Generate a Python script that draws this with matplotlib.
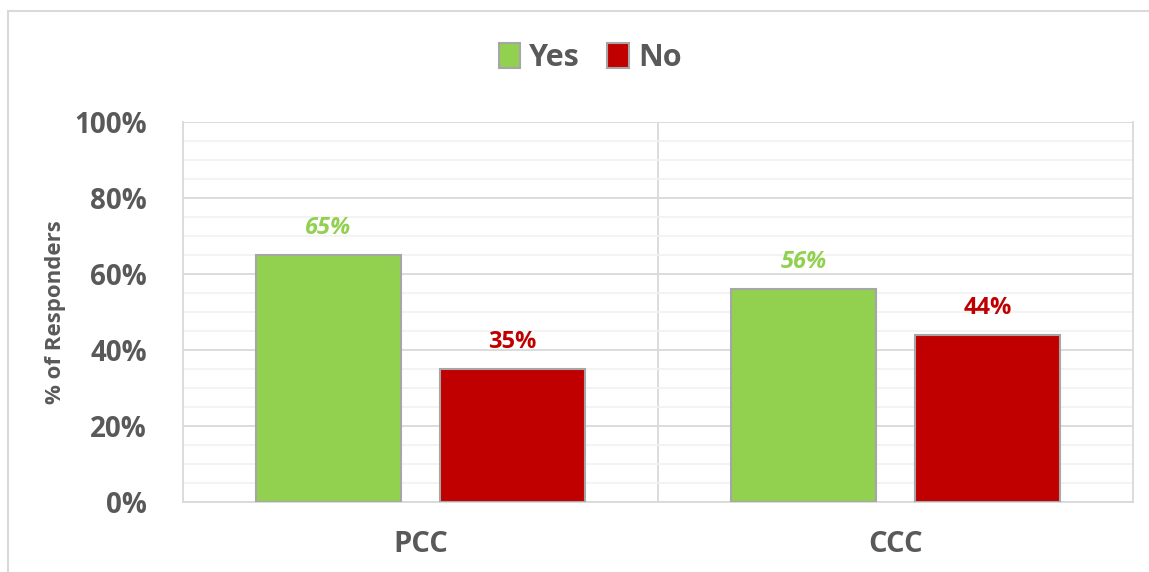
import matplotlib.pyplot as plt
from matplotlib.patches import Rectangle
from matplotlib.ticker import MultipleLocator, PercentFormatter
import numpy as np

# Chart data
categories = ["PCC", "CCC"]
series_names = ["Yes", "No"]
yes_values = [65, 56]
no_values = [35, 44]
colors = ["#92D050", "#C00000"]
text_grey = "#595959"

plt.rcParams['font.family'] = ['Open Sans', 'DejaVu Sans']

fig = plt.figure(figsize=(11.49, 5.72), dpi=100)
ax = fig.add_axes([183 / 1149, 1 - 502 / 572, (1133 - 183) / 1149, (502 - 122) / 572])

x = np.arange(len(categories))
width = 0.305
offset = 0.194
for vals, off, col, name in [(yes_values, -offset, colors[0], series_names[0]),
                             (no_values, offset, colors[1], series_names[1])]:
    bars = ax.bar(x + off, vals, width, color=col, edgecolor="#A6A6A6",
                  linewidth=1.5, label=name, zorder=3)
    for b, v in zip(bars, vals):
        ax.text(b.get_x() + b.get_width() / 2, v + 4, f"{v}%", ha="center",
                va="bottom", color=col, fontsize=17, fontweight="bold",
                style="italic" if name == "Yes" else "normal")

ax.set_xlim(-0.5, 1.5)
ax.set_ylim(0, 100)
ax.yaxis.set_major_locator(MultipleLocator(20))
ax.yaxis.set_minor_locator(MultipleLocator(5))
ax.yaxis.set_major_formatter(PercentFormatter(decimals=0))
ax.grid(axis="y", which="major", color="#D9D9D9", linewidth=1.3, zorder=0)
ax.grid(axis="y", which="minor", color="#F2F2F2", linewidth=1.3, zorder=0)
ax.axvline(0.5, color="#D9D9D9", linewidth=1.3, zorder=0)

ax.set_xticks(x)
ax.set_xticklabels(categories)
ax.tick_params(axis="both", which="both", length=0, colors=text_grey)
for lab in ax.get_yticklabels():
    lab.set_fontsize(20)
    lab.set_fontweight("bold")
for lab in ax.get_xticklabels():
    lab.set_fontsize(21)
    lab.set_fontweight("bold")
ax.tick_params(axis="x", pad=20)
ax.tick_params(axis="y", pad=26)

for side in ["left", "right", "bottom"]:
    ax.spines[side].set_color("#D9D9D9")
    ax.spines[side].set_linewidth(1.3)
ax.spines["top"].set_visible(False)

ax.set_ylabel("% of Responders", fontsize=16, fontweight="bold",
              color=text_grey, labelpad=6)

leg = fig.legend(loc="center", bbox_to_anchor=(590 / 1149, 1 - 58 / 572),
                 ncol=2, frameon=False, handlelength=0.7, handleheight=0.85,
                 handletextpad=0.3, columnspacing=0.9,
                 prop={"size": 22, "weight": "bold"})
for t in leg.get_texts():
    t.set_color(text_grey)

# outer chart border
fig.patches.append(Rectangle((8 / 1149, -0.1), 1.2, 1 + 0.1 - 11 / 572,
                             transform=fig.transFigure, fill=False,
                             edgecolor="#D9D9D9", linewidth=1.5))

fig.savefig("out.png", dpi=100)
